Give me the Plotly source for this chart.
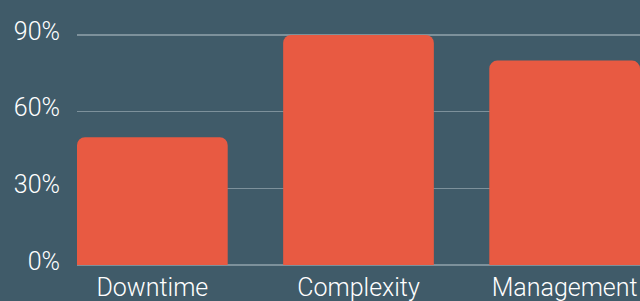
import plotly.graph_objects as go

categories = ["Downtime", "Complexity", "Management"]
values = [50, 90, 80]
tick_vals = [0, 30, 60, 90]
tick_text = ["0%", "30%", "60%", "90%"]

BG = "#405b69"
BAR = "#e85a42"
GRID = "#7d919b"
TXT = "#ffffff"

fig = go.Figure(go.Bar(
    x=categories, y=values, marker=dict(color=BAR, line=dict(width=0)),
    width=0.731, hoverinfo="skip",
))
fig.update_layout(
    width=640, height=301,
    paper_bgcolor=BG, plot_bgcolor=BG,
    margin=dict(l=77, r=0, t=34, b=36, autoexpand=False),
    barcornerradius=8,
    showlegend=False,
    font=dict(family="Roboto", color=TXT, size=24, weight=300),
)
fig.update_xaxes(range=[-0.3655, 2.3655], showgrid=False, zeroline=False,
                 showline=False, ticks="", automargin=False,
                 ticklabelstandoff=5,
                 tickfont=dict(size=25, color=TXT, weight=300))
fig.update_yaxes(range=[0, 90.4], tickvals=tick_vals, ticktext=tick_text,
                 showgrid=True, gridcolor=GRID, gridwidth=1.5, zeroline=True,
                 zerolinecolor=GRID, zerolinewidth=2, ticks="", automargin=False,
                 ticklabelstandoff=16, ticklabelshift=-4,
                 tickfont=dict(size=25, color=TXT, weight=300))
fig.write_html(
    "out.html",
    config={"displayModeBar": False, "staticPlot": True},
    post_script="document.body.style.margin='0';document.body.style.overflow='hidden';",
)
